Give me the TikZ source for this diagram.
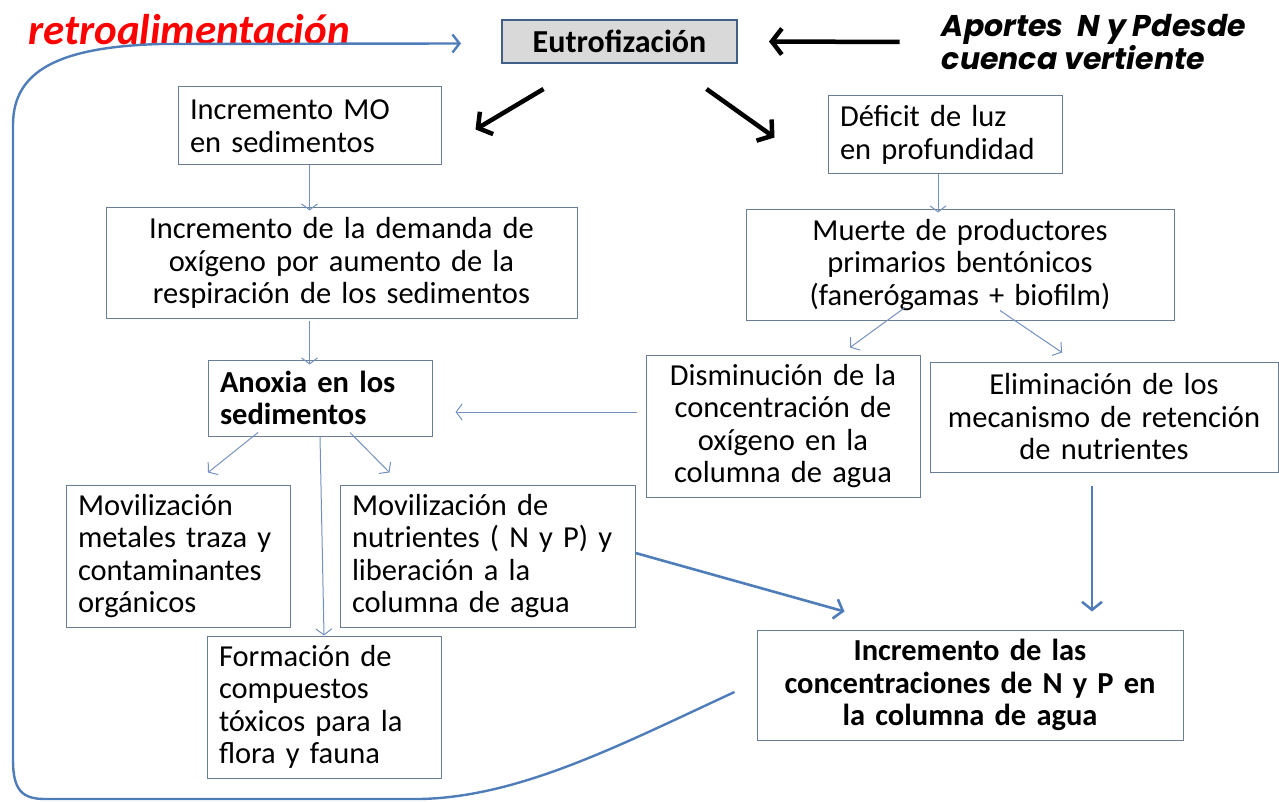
\documentclass[tikz,border=0pt]{standalone}
\usepackage{fontspec}
\setmainfont[WordSpace=0.8]{Carlito}
\newfontfamily\aportesfont{Poppins}
\usetikzlibrary{arrows.meta,calc}
\definecolor{boxline}{RGB}{105,125,150}
\definecolor{eutroline}{RGB}{65,95,135}
\definecolor{eutrofill}{RGB}{217,217,217}
\definecolor{thinblue}{RGB}{115,145,190}
\definecolor{feedblue}{RGB}{79,125,185}
\tikzset{
  box/.style={draw=boxline, line width=1pt, inner ysep=6pt, minimum height=#1,
    font=\fontsize{30.5}{32.5}\selectfont},
  box/.default=78pt,
  leftbox/.style={box=#1, inner xsep=12pt, align=left},
  leftbox/.default=78pt,
  midbox/.style={box=#1, inner xsep=3pt, align=center},
  midbox/.default=78pt,
  thinarrow/.style={draw=thinblue, line width=1pt, -{Straight Barb[length=6pt,width=16pt]}},
  thickarrow/.style={draw=feedblue, line width=2.6pt, -{Straight Barb[length=8pt,width=20pt]}},
  blackarrow/.style={draw=black, line width=4.5pt, -{Straight Barb[length=10pt,width=26pt]}}
}
\begin{document}
\begin{tikzpicture}[x=1pt,y=-1pt]
  \useasboundingbox (0,0) rectangle (1279,802);
  \node[draw=eutroline, fill=eutrofill, line width=2pt, minimum width=235pt, minimum height=43pt,
    font=\fontsize{32}{34}\selectfont\bfseries] (eutro) at (619.5,41.5) {Eutrofización};
  \node[text=red, font=\fontsize{43}{46}\selectfont\bfseries\itshape, inner sep=0pt] (retro) at (189,30) {retroalimentación};
  \node[font=\fontsize{30}{31}\selectfont\aportesfont\bfseries\itshape, align=left, inner sep=0pt] (aportes) at (1094,42)
    {Aportes\ \ N y Pdesde\\cuenca vertiente};
  \node[leftbox, text width=239pt] (mo) at (309.5,126) {Incremento MO\\en sedimentos};
  \node[leftbox, text width=210pt] (deficit) at (945,135) {Déficit de luz\\en profundidad};
  \node[midbox=110pt, text width=465pt] (demanda) at (341.5,263)
    {Incremento de la demanda de\\oxígeno por aumento de la\\respiración de los sedimentos};
  \node[midbox=110pt, text width=422pt] (muerte) at (960,265)
    {Muerte de productores\\primarios bentónicos\\(fanerógamas + biofilm)};
  \node[leftbox=76pt, text width=200pt, font=\fontsize{30.5}{32.5}\selectfont\bfseries] (anoxia) at (320,398)
    {Anoxia en los\\sedimentos};
  \node[midbox=142pt, text width=268pt] (dismin) at (783,426)
    {Disminución de la\\concentración de\\oxígeno en la\\columna de agua};
  \node[midbox=110pt, text width=342pt] (elim) at (1104,417)
    {Eliminación de los\\mecanismo de retención\\de nutrientes};
  \node[leftbox=142pt, text width=200pt] (metales) at (178,556)
    {Movilización\\metales traza y\\contaminantes\\orgánicos};
  \node[leftbox=142pt, text width=271pt] (nutri) at (487.5,556)
    {Movilización de\\nutrientes ( N y P) y\\liberación a la\\columna de agua};
  \node[leftbox=142pt, text width=210pt] (formacion) at (324,707)
    {Formación de\\compuestos\\tóxicos para la\\flora y fauna};
  \node[midbox=110pt, text width=420pt, font=\fontsize{30.5}{32.5}\selectfont\bfseries] (concent) at (970,685)
    {Incremento de las\\concentraciones de N y P en\\la columna de agua};
  \begin{scope}[thinarrow]
    \draw (mo.south) to ([yshift=-3pt]mo.south |- demanda.north);
    \draw ([yshift=-2pt]mo.south |- demanda.south) to ([yshift=-5pt]mo.south |- anoxia.north);
    \draw ([xshift=-7pt]deficit.south) to ([xshift=-7pt,yshift=-3pt]deficit.south |- muerte.north);
    \draw ($(muerte.south)+(-55,-13)$) to ($(dismin.north)+(67,-7)$);
    \draw ($(muerte.south)+(40,-10)$) to ($(elim.north)+(-42,-9)$);
    \draw ($(dismin.west)+(-9,-14)$) to ($(anoxia.east)+(23,14)$);
    \draw ($(anoxia.south)+(-62,-4)$) to ($(metales.north)+(30,-12)$);
    \draw ($(anoxia.south)+(30,-4)$) to ($(nutri.north)+(-98,-12)$);
    \draw (anoxia.south) to (formacion.north);
  \end{scope}
  \begin{scope}[thickarrow]
    \draw ($(nutri.east)+(0,-3)$) to ($(concent.north west)+(88,-18)$);
    \draw ($(elim.south)+(-12,13)$) to ($(concent.north)+(122,-18)$);
  \end{scope}
  \begin{scope}[blackarrow]
    \draw ($(aportes.west)+(-42,0)$) to ($(eutro.east)+(31,0)$);
    \draw ($(eutro.south)+(-76,25)$) to ($(mo.north east)+(34,43)$);
    \draw ($(eutro.south)+(87,25)$) to ($(deficit.north west)+(-53,42)$);
  \end{scope}
  \draw[draw=feedblue, line width=2.4pt, -{Straight Barb[length=7pt,width=18pt]}]
    ($(concent.west)+(-22,7)$) .. controls (620,745) and (520,797) .. (420,799)
    -- (45,799) .. controls (22,799) and (13,790) .. (13,760)
    -- (13,125) .. controls (13,70) and (60,47) .. (160,44)
    -- ($(eutro.west)+(-40,2)$);
\end{tikzpicture}
\end{document}
